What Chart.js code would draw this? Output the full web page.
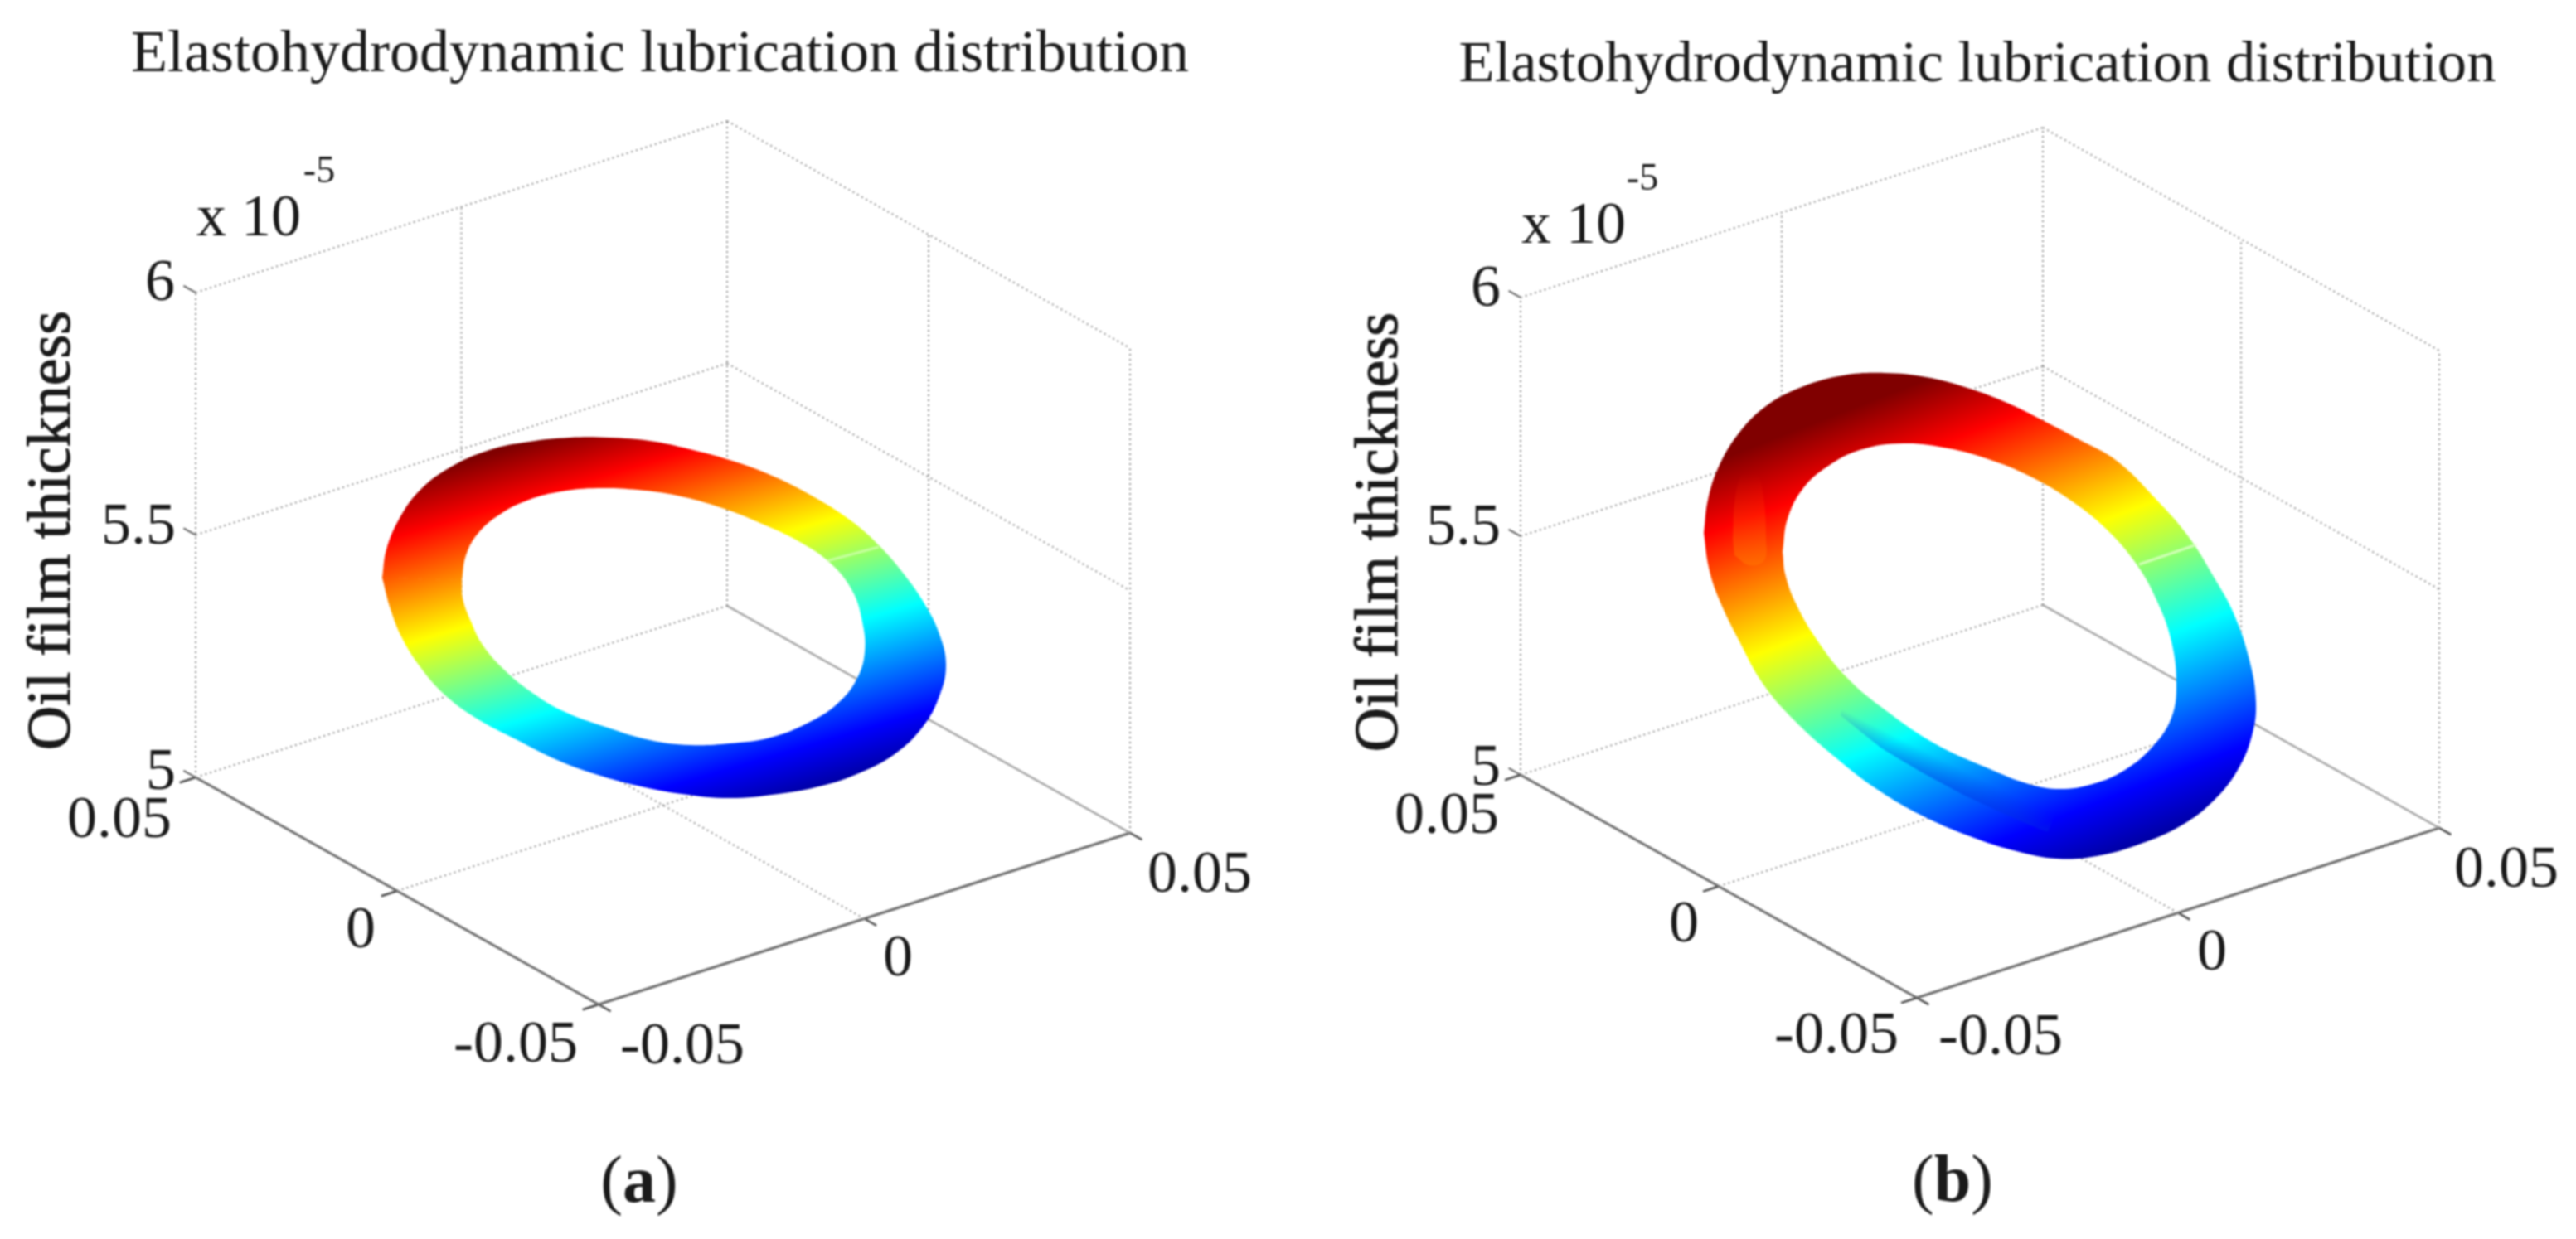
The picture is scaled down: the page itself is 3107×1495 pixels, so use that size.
<!DOCTYPE html>
<html>
<head>
<meta charset="utf-8">
<title>Elastohydrodynamic lubrication distribution</title>
<script src="https://cdn.jsdelivr.net/npm/chart.js@4/dist/chart.umd.min.js"></script>
<style>
html,body{margin:0;padding:0;background:#fff;width:3107px;height:1495px;overflow:hidden}
canvas{position:absolute;top:0;filter:blur(0.9px)}
</style>
</head>
<body>
<canvas id="panelA" width="1592" height="1495" style="left:0"></canvas>
<canvas id="panelB" width="1510" height="1495" style="left:1630px"></canvas>
<script>
// ---- text ----
const titleText = 'Elastohydrodynamic lubrication distribution';
const zAxisTitle = 'Oil film thickness';
const exponentBase = 'x 10';
const exponentPower = '-5';
const xyTickValues = [-0.05, 0, 0.05];
const zTickValues = [5, 5.5, 6];
const xyTickLabels = ['-0.05', '0', '0.05'];
const zTickLabels = ['5', '5.5', '6'];

// ---- ring outlines (plot-plane units) ----
const ringAOuterX = [461,466,481,505,541,590,638,687,735,784,832,880,929,977,1026,1062,1092,1116,1133,1141,1133,1113,1079,1036,992,939,880,822,769,721,672,624,575,536,507,485,471];
const ringAOuterY = [697,663,627,593,565,543,533,528,528,532,542,555,573,597,628,660,695,730,765,802,840,877,910,933,948,958,963,958,948,935,917,893,867,838,805,770,735];
const ringAInnerX = [557,562,577,604,638,677,721,769,817,871,919,963,1002,1028,1040,1043,1033,1009,973,929,880,832,784,730,677,638,607,582,568,558];
const ringAInnerY = [700,670,643,620,603,593,589,591,598,613,632,653,680,713,750,787,820,850,873,890,897,899,893,877,857,833,807,778,750,722];
const ringBOuterX = [2055,2060,2073,2097,2130,2173,2223,2273,2323,2373,2423,2473,2507,2553,2602,2640,2670,2694,2713,2721,2716,2699,2670,2631,2582,2529,2480,2432,2384,2320,2262,2214,2165,2127,2098,2073,2061];
const ringBOuterY = [643,603,563,523,490,467,453,450,455,468,487,512,530,556,604,648,696,740,796,848,888,929,966,996,1018,1033,1036,1027,1012,985,951,914,870,826,774,722,685];
const ringBInnerX = [2150,2156,2175,2204,2243,2296,2350,2398,2447,2495,2539,2577,2602,2619,2625,2619,2597,2563,2524,2485,2447,2398,2335,2277,2228,2190,2165,2153];
const ringBInnerY = [666,626,589,563,543,535,541,554,574,602,637,681,726,774,826,866,900,929,946,952,946,927,898,859,818,770,726,692];
// second film layer visible in panel (b)
const ringBLobeX = [2220,2270,2320,2370,2420,2470,2485,2447,2398,2335,2277,2228];
const ringBLobeY = [863,903,933,960,983,1003,952,946,927,898,859,818];
const ringBTongueX = [2090,2093,2103,2118,2127,2130,2128,2110,2092];
const ringBTongueY = [650,600,570,570,600,650,676,682,670];
// faint seam across the ring
const seamAX = [997,1060], seamAY = [677,660];
const seamBX = [2580,2650], seamBY = [681,657];

// ---- jet colour scale ----
const jetLevels = [0, 0.125, 0.375, 0.625, 0.875, 1];
const jetColours = ['#00008f','#0000ff','#00ffff','#ffff00','#ff0000','#800000'];

// ---- view of each panel (box corners on the plot plane, label anchors) ----
const viewA = {
  front:[722,1212], right:[1363,1005], left:[236,938], zSpan:585,
  jetFrom:[1000,959], jetTo:[856,470],
  xMin:0, xMax:1592, padTop:24, titleSize:72,
  zLabelPos:[[194,933],[167,637],[193,343]],
  yLabelPos:[[622,1262],[435,1124],[144,991]],
  xLabelPos:[[823,1264],[1083,1158],[1447,1057]],
  basePos:[300,265], powerPos:[385,208], titlePos:[65,640], captionPos:[771,1429], caption:'a'
};
const viewB = {
  front:[2312,1204], right:[2942,999], left:[1834,935], zSpan:576,
  jetFrom:[2550,1045], jetTo:[2323,458],
  xMin:1630, xMax:3140, padTop:37, titleSize:70.6,
  zLabelPos:[[1792,928],[1765,638],[1792,350]],
  yLabelPos:[[2215,1251],[2031,1117],[1745,986]],
  xLabelPos:[[2413,1253],[2668,1151],[3023,1051]],
  basePos:[1898,274], powerPos:[1981,217], titlePos:[1666,642], captionPos:[2355,1428], caption:'b'
};

const SERIF = '"Liberation Serif"';
const TICK_SIZE = 72, CAPTION_SIZE = 80, ZTITLE_SIZE = 74;

function zipXY(xs, ys){ return xs.map((x,i)=>({x, y:ys[i]})); }
function project(view, x, y, z){
  const u=(x+0.05)/0.1, v=(y+0.05)/0.1, w=z-5;
  return {
    x: view.front[0]+u*(view.right[0]-view.front[0])+v*(view.left[0]-view.front[0]),
    y: view.front[1]+u*(view.right[1]-view.front[1])+v*(view.left[1]-view.front[1])-w*view.zSpan
  };
}
// closed band: outer outline, a straight bridge, inner outline backwards, bridge back.
// Each corner gets a hair-close neighbour so the curve fit stays straight across the bridge.
function near(p,q){ return {x:p.x+(q.x-p.x)*0.01, y:p.y+(q.y-p.y)*0.01}; }
function ringPath(ox,oy,ix,iy){
  const O=zipXY(ox,oy), I=zipXY(ix,iy);
  const o0=O[0], i0=I[0], oLast=O[O.length-1], i1=I[1];
  return [...O, near(o0,oLast), o0, near(i0,o0), i0, ...I.slice(1).reverse(), near(i0,i1), i0, near(o0,i0), o0];
}
function linGrad(chart, from, to, stops){
  const sx=chart.scales.x, sy=chart.scales.y;
  const g=chart.ctx.createLinearGradient(sx.getPixelForValue(from[0]),sy.getPixelForValue(from[1]),sx.getPixelForValue(to[0]),sy.getPixelForValue(to[1]));
  stops.forEach(s=>g.addColorStop(s[0],s[1]));
  return g;
}
const jetStops = jetLevels.map((l,i)=>[l,jetColours[i]]);

function lineDs(data, colour, width, dash, order){
  return {data, showLine:true, borderColor:colour, borderWidth:width, borderDash:dash||[], pointRadius:0, fill:false, order:order===undefined?2:order, borderCapStyle:'butt'};
}
function shapeDs(data, bg, order, tension){
  return {data, showLine:true, borderWidth:0, pointRadius:0, tension:tension, fill:'shape', backgroundColor:bg, order};
}

function boxDatasets(view){
  const [lo,mid,hi]=xyTickValues, [z0,z1,z2]=zTickValues;
  const P=(x,y,z)=>project(view,x,y,z);
  const dotted='#8c8c8c', dash=[2,4];
  const out=[];
  // walls: horizontals
  [z0,z1,z2].forEach(z=>out.push(lineDs([P(lo,hi,z),P(hi,hi,z)],dotted,2,dash)));
  [z1,z2].forEach(z=>out.push(lineDs([P(hi,hi,z),P(hi,lo,z)],dotted,2,dash)));
  // walls: verticals
  [lo,mid,hi].forEach(x=>out.push(lineDs([P(x,hi,z0),P(x,hi,z2)],dotted,2,dash)));
  [mid,lo].forEach(y=>out.push(lineDs([P(hi,y,z0),P(hi,y,z2)],dotted,2,dash)));
  // floor grid
  out.push(lineDs([P(mid,lo,z0),P(mid,hi,z0)],dotted,2,dash));
  out.push(lineDs([P(lo,mid,z0),P(hi,mid,z0)],dotted,2,dash));
  // solid edges
  out.push(lineDs([P(hi,hi,z0),P(hi,lo,z0)],'#a0a0a0',2.5));
  out.push(lineDs([P(lo,hi,z0),P(lo,lo,z0)],'#6a6a6a',3));
  out.push(lineDs([P(lo,lo,z0),P(hi,lo,z0)],'#6a6a6a',3));
  // tick marks
  [z0,z1,z2].forEach(z=>out.push(lineDs([P(lo,hi,z),P(lo,hi+0.003,z)],'#555',2)));
  [lo,mid,hi].forEach(x=>out.push(lineDs([P(x,lo,z0),P(x,lo-0.003,z0)],'#444',2.5)));
  [lo,mid,hi].forEach(y=>out.push(lineDs([P(lo,y,z0),P(lo-0.003,y,z0)],'#444',2.5)));
  return out;
}

const labelPlugin = {
  id:'labels3d',
  afterDatasetsDraw(chart, args, opts){
    const view=opts.view, ctx=chart.ctx, sx=chart.scales.x, sy=chart.scales.y;
    const px=p=>[sx.getPixelForValue(p[0]),sy.getPixelForValue(p[1])];
    ctx.save();
    ctx.fillStyle='#1a1a1a'; ctx.textAlign='center'; ctx.textBaseline='middle';
    ctx.font=`${TICK_SIZE}px ${SERIF}`;
    const put=(t,p)=>{const q=px(p);ctx.fillText(t,q[0],q[1]);};
    zTickLabels.forEach((t,i)=>put(t,view.zLabelPos[i]));
    xyTickLabels.forEach((t,i)=>{put(t,view.yLabelPos[i]);put(t,view.xLabelPos[i]);});
    put(exponentBase,view.basePos);
    ctx.font=`46px ${SERIF}`; put(exponentPower,view.powerPos);
    // z axis title
    const q=px(view.titlePos);
    ctx.save(); ctx.translate(q[0],q[1]); ctx.rotate(-Math.PI/2);
    ctx.font=`${ZTITLE_SIZE}px ${SERIF}`; ctx.fillText(zAxisTitle,0,0);
    ctx.strokeStyle='#1a1a1a'; ctx.lineWidth=1.1; ctx.strokeText(zAxisTitle,0,0); ctx.restore();
    // caption
    const c=px(view.captionPos);
    ctx.textAlign='left';
    ctx.font=`${CAPTION_SIZE}px ${SERIF}`; const w1=ctx.measureText('(').width;
    ctx.font=`bold ${CAPTION_SIZE}px ${SERIF}`; const w2=ctx.measureText(view.caption).width;
    const x0=c[0]-(w1*2+w2)/2;
    ctx.font=`${CAPTION_SIZE}px ${SERIF}`; ctx.fillText('(',x0,c[1]); ctx.fillText(')',x0+w1+w2,c[1]);
    ctx.font=`bold ${CAPTION_SIZE}px ${SERIF}`; ctx.fillText(view.caption,x0+w1,c[1]);
    ctx.restore();
  }
};

function makeChart(id, view, ringSets){
  const blockH = view.padTop + view.titleSize*1.2;
  return new Chart(document.getElementById(id),{
    type:'scatter',
    data:{datasets:[...ringSets, ...boxDatasets(view)]},
    options:{
      responsive:false, animation:false, events:[],
      layout:{padding:0},
      scales:{
        x:{type:'linear',display:false,min:view.xMin,max:view.xMax},
        y:{type:'linear',display:false,reverse:true,min:blockH,max:1495}
      },
      plugins:{
        legend:{display:false}, tooltip:{enabled:false},
        title:{display:true,text:titleText,color:'#1a1a1a',font:{family:SERIF,size:view.titleSize,weight:'normal'},padding:{top:view.padTop,bottom:0}},
        labels3d:{view}
      }
    },
    plugins:[labelPlugin]
  });
}

makeChart('panelA', viewA, [
  lineDs(zipXY(seamAX,seamAY),'rgba(230,255,210,0.55)',3,[],0),
  shapeDs(ringPath(ringAOuterX,ringAOuterY,ringAInnerX,ringAInnerY),
    c=>c.chart.chartArea?linGrad(c.chart,viewA.jetFrom,viewA.jetTo,jetStops):'#888',1,0.4)
]);

makeChart('panelB', viewB, [
  lineDs(zipXY(seamBX,seamBY),'rgba(235,255,215,0.7)',3,[],0),
  shapeDs(zipXY(ringBTongueX,ringBTongueY),
    c=>c.chart.chartArea?linGrad(c.chart,[2110,684],[2110,570],[[0,'rgba(255,115,0,0.7)'],[0.25,'rgba(255,100,0,0.5)'],[1,'rgba(255,40,0,0)']]):'#888',0,0.4),
  shapeDs(zipXY(ringBLobeX,ringBLobeY),
    c=>c.chart.chartArea?linGrad(c.chart,[2345,945],[2356,923],[[0,'rgba(0,50,225,0.42)'],[1,'rgba(0,50,225,0)']]):'#888',0,0.1),
  shapeDs(ringPath(ringBOuterX,ringBOuterY,ringBInnerX,ringBInnerY),
    c=>c.chart.chartArea?linGrad(c.chart,viewB.jetFrom,viewB.jetTo,jetStops):'#888',1,0.4)
]);
</script>
</body>
</html>
